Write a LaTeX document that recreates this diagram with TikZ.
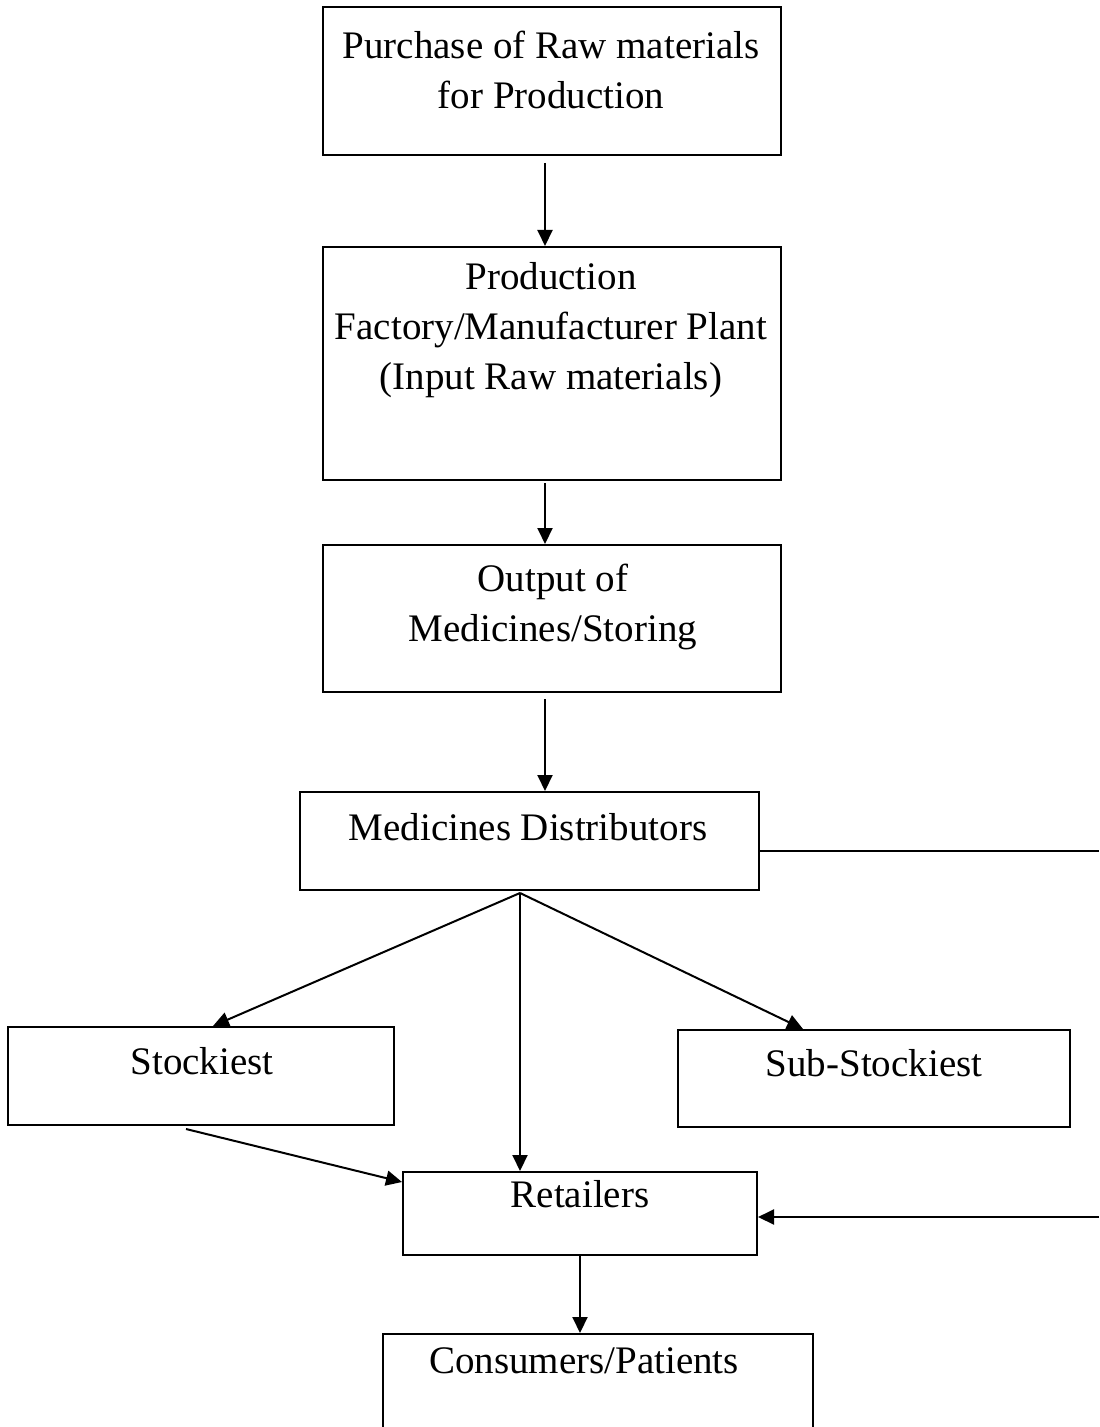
\documentclass[tikz,border=0pt]{standalone}
\usepackage{fontspec}
\setmainfont{Liberation Serif}
\usepackage{tikz}
\usetikzlibrary{arrows.meta, positioning, calc}

\begin{document}
\begin{tikzpicture}[
  x=0.5pt, y=-0.5pt,
  box/.style={rectangle, draw, line width=1pt, inner sep=0pt},
  txt/.style={align=center, inner sep=0pt, font=\fontsize{19.5}{25}\selectfont},
  arrow/.style={-{Triangle[length=8pt, width=7.5pt]}, line width=1pt},
  plain/.style={line width=1pt},
]
  \useasboundingbox (0,0) rectangle (1099,1427);

  % boxes
  \node[box, minimum width=229pt, minimum height=74pt]   (buy)    at (552,81)    {};
  \node[box, minimum width=229pt, minimum height=116.5pt] (prod)  at (552,363.5) {};
  \node[box, minimum width=229pt, minimum height=73.5pt] (output) at (552,618.5) {};
  \node[box, minimum width=229.5pt, minimum height=49pt] (dist)   at (529.5,841) {};
  \node[box, minimum width=193pt, minimum height=49pt]   (stock)  at (201,1076)  {};
  \node[box, minimum width=196pt, minimum height=48.5pt] (sub)    at (874,1078.5) {};
  \node[box, minimum width=177pt, minimum height=41.5pt] (retail) at (580,1213.5) {};
  \node[box, minimum width=215pt, minimum height=60pt]   (cons)   at (598,1394)  {};

  % texts
  \node[txt] (buyt)    at (551,70)   {Purchase of Raw materials\\for Production};
  \node[txt] (prodt)   at (551,330)  {Production\\Factory/Manufacturer Plant\\(Input Raw materials)};
  \node[txt] (outputt) at (553,607)  {Output of\\Medicines/Storing};
  \node[txt] (distt)   at (528,827)  {Medicines Distributors};
  \node[txt] (stockt)  at (202,1061) {Stockiest};
  \node[txt] (subt)    at (874,1063) {Sub-Stockiest};
  \node[txt] (retailt) at (580,1194) {Retailers};
  \node[txt] (const)   at (584,1361) {Consumers/Patients};

  % free ends
  \coordinate (fan)   at (520,893);
  \coordinate (edgeA) at (1099,851);
  \coordinate (edgeB) at (1099,1217);

  % connectors
  \draw[arrow] ([xshift=-3.5pt, yshift=-3.5pt]buy.south) -- ([xshift=-3.5pt]prod.north);
  \draw[arrow] ([xshift=-3.5pt, yshift=-1pt]prod.south) -- ([xshift=-3.5pt]output.north);
  \draw[arrow] ([xshift=-3.5pt, yshift=-3pt]output.south) -- ([xshift=7.75pt]dist.north);
  \draw[arrow] (fan) -- ([xshift=6pt]stock.north);
  \draw[arrow] (fan) -- ([xshift=-35.5pt]sub.north);
  \draw[arrow] (fan) -- ([xshift=-30pt]retail.north);
  \draw[arrow] ([xshift=-7.5pt, yshift=-1.5pt]stock.south) -- ($(retail.north west)+(0,11)$);
  \draw[plain] ($(dist.east)+(0,10)$) -- (edgeA);
  \draw[arrow] (edgeB) -- ($(retail.east)+(0,3.5)$);
  \draw[arrow] (retail.south) -- ([xshift=-9pt]cons.north);
\end{tikzpicture}
\end{document}
